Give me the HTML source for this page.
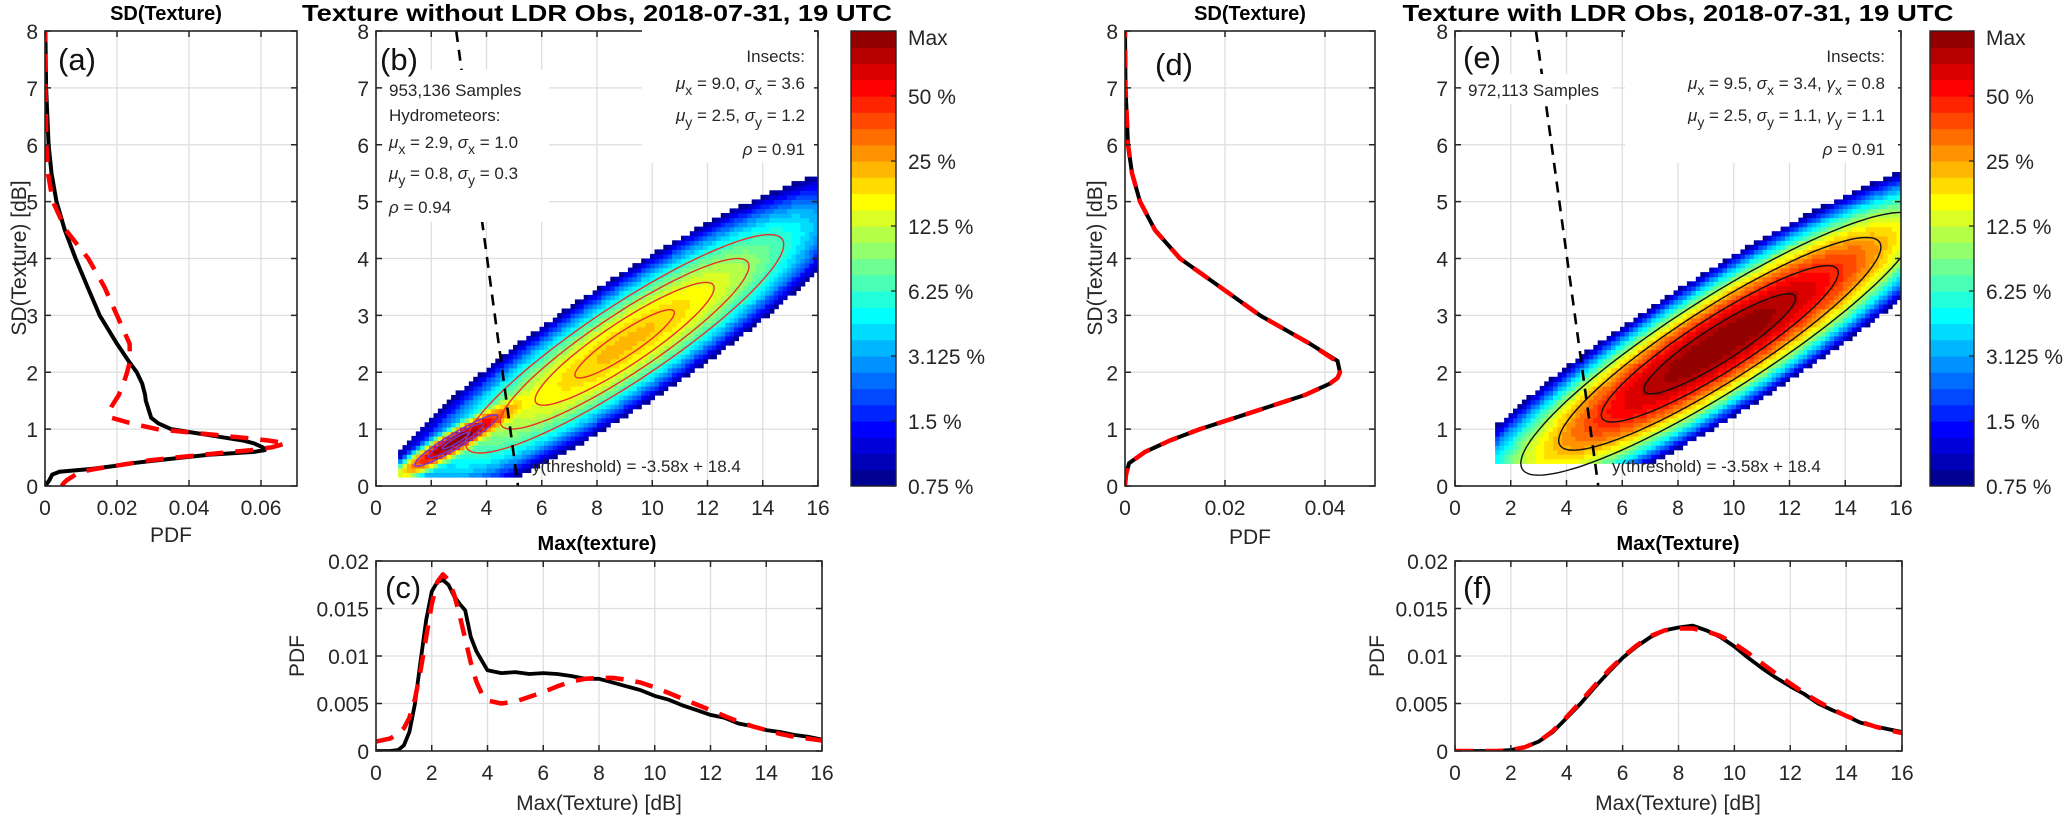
<!DOCTYPE html>
<html><head><meta charset="utf-8"><title>Texture PDFs</title>
<style>
html,body{margin:0;padding:0;background:#fff;}
svg{display:block;font-family:"Liberation Sans",Arial,sans-serif;}
text{fill:#262626;}
.t{font-size:21px;}
.ann{font-size:17px;}
.lab{font-size:31px;fill:#111;}
.ttl{font-size:23px;font-weight:bold;fill:#000;}
.sttl{font-size:20px;font-weight:bold;fill:#000;}
</style></head>
<body>
<svg id="fig" xmlns="http://www.w3.org/2000/svg" width="2067" height="816" viewBox="0 0 2067 816">
<defs>
<clipPath id="clipA"><rect x="45" y="31" width="252" height="455"/></clipPath>
<clipPath id="clipB"><rect x="376" y="31" width="442" height="455"/></clipPath>
<clipPath id="clipC"><rect x="376" y="561" width="446" height="190"/></clipPath>
<clipPath id="clipD"><rect x="1125" y="31" width="250" height="455"/></clipPath>
<clipPath id="clipE"><rect x="1455" y="31" width="446" height="455"/></clipPath>
<clipPath id="clipF"><rect x="1455" y="561" width="447" height="190"/></clipPath>
</defs>
<g id="layer"></g>
<g id="over">
<text class="sttl" x="166" y="20" text-anchor="middle">SD(Texture)</text>
<text class="ttl" x="597" y="21" text-anchor="middle" textLength="590" lengthAdjust="spacingAndGlyphs">Texture without LDR Obs, 2018-07-31, 19 UTC</text>
<text class="sttl" x="1250" y="20" text-anchor="middle">SD(Texture)</text>
<text class="ttl" x="1678" y="21" text-anchor="middle" textLength="551" lengthAdjust="spacingAndGlyphs">Texture with LDR Obs, 2018-07-31, 19 UTC</text>

<text class="t" transform="translate(26,258) rotate(-90)" text-anchor="middle">SD(Texture) [dB]</text>
<text class="t" x="171" y="542" text-anchor="middle">PDF</text>
<text class="t" transform="translate(1102,258) rotate(-90)" text-anchor="middle">SD(Texture) [dB]</text>
<text class="t" x="1250" y="544" text-anchor="middle">PDF</text>
<text class="sttl" x="597" y="550" text-anchor="middle">Max(texture)</text>
<text class="sttl" x="1678" y="550" text-anchor="middle">Max(Texture)</text>
<text class="t" x="599" y="810" text-anchor="middle">Max(Texture) [dB]</text>
<text class="t" x="1678" y="810" text-anchor="middle">Max(Texture) [dB]</text>
<text class="t" transform="translate(304,656) rotate(-90)" text-anchor="middle">PDF</text>
<text class="t" transform="translate(1384,656) rotate(-90)" text-anchor="middle">PDF</text>

<rect x="383" y="70" width="166" height="152" fill="#fff"/>
<text class="ann" x="389" y="96">953,136 Samples</text>
<text class="ann" x="389" y="121">Hydrometeors:</text>
<text class="ann" x="389" y="148"><tspan font-style="italic">μ</tspan><tspan dy="6" font-size="14">x</tspan><tspan dy="-6"> = 2.9, </tspan><tspan font-style="italic">σ</tspan><tspan dy="6" font-size="14">x</tspan><tspan dy="-6"> = 1.0</tspan></text>
<text class="ann" x="389" y="179"><tspan font-style="italic">μ</tspan><tspan dy="6" font-size="14">y</tspan><tspan dy="-6"> = 0.8, </tspan><tspan font-style="italic">σ</tspan><tspan dy="6" font-size="14">y</tspan><tspan dy="-6"> = 0.3</tspan></text>
<text class="ann" x="389" y="213"><tspan font-style="italic">ρ</tspan> = 0.94</text>

<rect x="642" y="27" width="172" height="136" fill="#fff"/>
<text class="ann" x="805" y="62" text-anchor="end">Insects:</text>
<text class="ann" x="805" y="89" text-anchor="end"><tspan font-style="italic">μ</tspan><tspan dy="6" font-size="14">x</tspan><tspan dy="-6"> = 9.0, </tspan><tspan font-style="italic">σ</tspan><tspan dy="6" font-size="14">x</tspan><tspan dy="-6"> = 3.6</tspan></text>
<text class="ann" x="805" y="121" text-anchor="end"><tspan font-style="italic">μ</tspan><tspan dy="6" font-size="14">y</tspan><tspan dy="-6"> = 2.5, </tspan><tspan font-style="italic">σ</tspan><tspan dy="6" font-size="14">y</tspan><tspan dy="-6"> = 1.2</tspan></text>
<text class="ann" x="805" y="155" text-anchor="end"><tspan font-style="italic">ρ</tspan> = 0.91</text>
<text class="ann" x="532" y="472">y(threshold) = -3.58x + 18.4</text>

<rect x="1462" y="74" width="150" height="30" fill="#fff"/>
<rect x="1625" y="27" width="273" height="136" fill="#fff"/>
<text class="ann" x="1468" y="96">972,113 Samples</text>
<text class="ann" x="1885" y="62" text-anchor="end">Insects:</text>
<text class="ann" x="1885" y="89" text-anchor="end"><tspan font-style="italic">μ</tspan><tspan dy="6" font-size="14">x</tspan><tspan dy="-6"> = 9.5, </tspan><tspan font-style="italic">σ</tspan><tspan dy="6" font-size="14">x</tspan><tspan dy="-6"> = 3.4, </tspan><tspan font-style="italic">γ</tspan><tspan dy="6" font-size="14">x</tspan><tspan dy="-6"> = 0.8</tspan></text>
<text class="ann" x="1885" y="121" text-anchor="end"><tspan font-style="italic">μ</tspan><tspan dy="6" font-size="14">y</tspan><tspan dy="-6"> = 2.5, </tspan><tspan font-style="italic">σ</tspan><tspan dy="6" font-size="14">y</tspan><tspan dy="-6"> = 1.1, </tspan><tspan font-style="italic">γ</tspan><tspan dy="6" font-size="14">y</tspan><tspan dy="-6"> = 1.1</tspan></text>
<text class="ann" x="1885" y="155" text-anchor="end"><tspan font-style="italic">ρ</tspan> = 0.91</text>
<text class="ann" x="1612" y="472">y(threshold) = -3.58x + 18.4</text>

<text class="lab" x="58" y="70">(a)</text>
<text class="lab" x="380" y="70">(b)</text>
<text class="lab" x="385" y="598">(c)</text>
<text class="lab" x="1155" y="75">(d)</text>
<text class="lab" x="1463" y="68">(e)</text>
<text class="lab" x="1463" y="598">(f)</text>
</g>
</svg>
<script>
// ---------- data ----------
const aSdLevels = [0,0.05,0.1,0.2,0.25,0.3,0.35,0.4,0.45,0.5,0.55,0.6,0.63,0.68,0.75,0.8,0.85,0.9,0.95,1.0,1.1,1.2,1.3,1.4,1.5,1.6,1.8,2.0,2.2,2.5,3.0,3.5,4.0,4.5,5.0,5.5,6.0,7.0,8.0];
const aPdfObs = [0,0.0006,0.0012,0.002,0.004,0.013,0.019,0.024,0.031,0.038,0.0455,0.058,0.061,0.0605,0.058,0.055,0.05,0.045,0.04,0.035,0.0315,0.0295,0.029,0.0285,0.028,0.0278,0.027,0.0255,0.0232,0.02,0.0152,0.0118,0.0085,0.0055,0.0032,0.0018,0.001,0.0003,0.0001];
const aPdfFit = [0.0046,0.0052,0.006,0.0085,0.01,0.014,0.019,0.024,0.029,0.036,0.044,0.052,0.057,0.063,0.067,0.062,0.055,0.047,0.039,0.031,0.024,0.0185,0.0178,0.0185,0.0195,0.0205,0.0218,0.0228,0.0236,0.0235,0.02,0.0165,0.012,0.0058,0.0022,0.0008,0.0004,0.0001,0];

const dSdLevels = [0,0.2,0.4,0.6,0.8,1.0,1.2,1.4,1.6,1.8,1.9,2.0,2.2,2.5,3.0,3.5,4.0,4.5,5.0,5.5,6.0,7.0,8.0];
const dPdfObs = [0,0.0002,0.0008,0.004,0.009,0.015,0.022,0.029,0.036,0.041,0.0425,0.043,0.0425,0.037,0.027,0.019,0.011,0.006,0.003,0.0014,0.0006,0.0001,0];
const dPdfFit = [0,0.0002,0.0008,0.004,0.009,0.015,0.022,0.029,0.036,0.041,0.0425,0.043,0.0422,0.037,0.027,0.019,0.011,0.006,0.003,0.0014,0.0006,0.0001,0];

const cMaxTexture = [0,0.5,0.8,1.0,1.2,1.4,1.6,1.8,2.0,2.2,2.4,2.6,2.8,3.0,3.2,3.4,3.6,3.8,4.0,4.5,5,5.5,6,6.5,7,7.5,8,8.5,9,9.5,10,10.5,11,11.5,12,12.5,13,13.5,14,14.5,15,15.5,16];
const cPdfObs = [0,0,0.0001,0.0006,0.002,0.005,0.0095,0.0138,0.0168,0.0178,0.018,0.0175,0.0163,0.0155,0.0148,0.012,0.0105,0.0095,0.0085,0.0082,0.0083,0.0081,0.0082,0.0081,0.0079,0.0076,0.0076,0.0072,0.0068,0.0064,0.0058,0.0054,0.0048,0.0043,0.0038,0.0035,0.0029,0.0026,0.0022,0.002,0.0017,0.0015,0.0012];
const cPdfFit = [0.001,0.0013,0.0018,0.0024,0.0035,0.0055,0.0085,0.012,0.0155,0.0178,0.0186,0.018,0.0165,0.0143,0.0118,0.0093,0.0073,0.006,0.0053,0.005,0.0052,0.0057,0.0062,0.0068,0.0073,0.0076,0.0077,0.0077,0.0075,0.0072,0.0067,0.0061,0.0055,0.0049,0.0043,0.0037,0.0031,0.0026,0.0022,0.0018,0.0015,0.0013,0.0011];

const fMaxTexture = [0,0.5,1,1.5,2,2.5,3,3.5,4,4.5,5,5.5,6,6.5,7,7.5,8,8.5,9,9.5,10,10.5,11,11.5,12,12.5,13,13.5,14,14.5,15,15.5,16];
const fPdfObs = [0,0,0,0,0.0001,0.0004,0.001,0.002,0.0035,0.005,0.0067,0.0083,0.0098,0.011,0.012,0.0127,0.013,0.0132,0.0127,0.012,0.011,0.0098,0.0087,0.0077,0.0068,0.006,0.005,0.0043,0.0037,0.003,0.0026,0.0023,0.002];
const fPdfFit = [0,0,0,0,0.0001,0.0004,0.001,0.0021,0.0036,0.0052,0.0069,0.0085,0.0099,0.0111,0.0121,0.0127,0.0129,0.0129,0.0126,0.0121,0.0113,0.0103,0.0092,0.0081,0.0071,0.0061,0.0052,0.0044,0.0037,0.0031,0.0026,0.0022,0.0019];

// 2D histogram populations (values printed in the figure)
const bMuX = [2.9, 9.0];
const bSigmaX = [1.0, 3.6];
const bMuY = [0.8, 2.5];
const bSigmaY = [0.3, 1.2];
const bRho = [0.94, 0.91];
const bWeight = [1, 4];
const bLowerCut = [0.8, 0.15];
const eMuX = [9.5];
const eSigmaX = [3.4];
const eMuY = [2.5];
const eSigmaY = [1.1];
const eRho = [0.91];
const eWeight = [1];
const eLowerCut = [1.5, 0.4];
const bHydroContourLevels = [0.5, 1.0, 1.5];
const bInsectContourLevels = [0.5, 0.9, 1.25, 1.6];
const eInsectContourLevels = [0.8, 1.25, 1.7, 2.1];
const threshold = [-3.58, 18.4];

const colorbarLabels = ['0.75 %','1.5 %','3.125 %','6.25 %','12.5 %','25 %','50 %','Max'];
const colorbarOctaves = [-7,-6,-5,-4,-3,-2,-1,0];

const sdTicks = [0,1,2,3,4,5,6,7,8];
const sdTickLabels = ['0','1','2','3','4','5','6','7','8'];
const texTicks = [0,2,4,6,8,10,12,14,16];
const texTickLabels = ['0','2','4','6','8','10','12','14','16'];
const aPdfTicks = [0,0.02,0.04,0.06];
const aPdfTickLabels = ['0','0.02','0.04','0.06'];
const dPdfTicks = [0,0.02,0.04];
const dPdfTickLabels = ['0','0.02','0.04'];
const smallPdfTicks = [0,0.005,0.01,0.015,0.02];
const smallPdfTickLabels = ['0','0.005','0.01','0.015','0.02'];

// ---------- helpers ----------
const NS = 'http://www.w3.org/2000/svg';
const layer = document.getElementById('layer');
function mk(tag, parent, name){
  const e = document.createElementNS(NS, tag);
  
  
  parent.appendChild(e);
  return e;
}
function lin(d0,d1,r0,r1){ return v => r0 + (v-d0)*(r1-r0)/(d1-d0); }
function jet(t){
  const c = v => Math.max(0, Math.min(1, v));
  const r = c(1.5-Math.abs(4*t-3)), g = c(1.5-Math.abs(4*t-2)), b = c(1.5-Math.abs(4*t-1));
  return 'rgb(' + Math.round(r*255) + ',' + Math.round(g*255) + ',' + Math.round(b*255) + ')';
}
const NBANDS = 28;

function makeAxes(p){
  const g = mk('g', layer, p.name);
  const sx = lin(p.xmin,p.xmax,p.x0,p.x1), sy = lin(p.ymin,p.ymax,p.y0,p.y1);
  p.xt.forEach(v => {
    const l = mk('line', g, p.name + '-x-grid-line');
    l.setAttribute('x1', sx(v)); l.setAttribute('x2', sx(v));
    l.setAttribute('y1', p.y0); l.setAttribute('y2', p.y1);
    l.setAttribute('stroke', '#dedede'); l.setAttribute('stroke-width', '1.3');
  });
  p.yt.forEach(v => {
    const l = mk('line', g, p.name + '-y-grid-line');
    l.setAttribute('x1', p.x0); l.setAttribute('x2', p.x1);
    l.setAttribute('y1', sy(v)); l.setAttribute('y2', sy(v));
    l.setAttribute('stroke', '#dedede'); l.setAttribute('stroke-width', '1.3');
  });
  const plot = mk('g', g, p.name + '-plot-area');
  plot.setAttribute('clip-path', 'url(#' + p.clip + ')');
  return {g, plot, sx, sy, p};
}
function finishAxes(ax){
  const p = ax.p, g = ax.g, sx = ax.sx, sy = ax.sy;
  const fr = mk('rect', g, p.name + '-frame');
  fr.setAttribute('x', p.x0); fr.setAttribute('y', p.y1);
  fr.setAttribute('width', p.x1-p.x0); fr.setAttribute('height', p.y0-p.y1);
  fr.setAttribute('fill', 'none'); fr.setAttribute('stroke', '#262626'); fr.setAttribute('stroke-width', '1.6');
  p.xt.forEach((v,i) => {
    [[p.y0, p.y0-6],[p.y1, p.y1+6]].forEach(yy => {
      const t = mk('line', g, p.name + '-x-tick');
      t.setAttribute('x1', sx(v)); t.setAttribute('x2', sx(v));
      t.setAttribute('y1', yy[0]); t.setAttribute('y2', yy[1]);
      t.setAttribute('stroke', '#262626'); t.setAttribute('stroke-width', '1.5');
    });
    const tx = mk('text', g, p.name + '-x-tick-label');
    tx.setAttribute('x', sx(v)); tx.setAttribute('y', p.y0 + 29);
    tx.setAttribute('text-anchor', 'middle'); tx.setAttribute('class', 't');
    tx.textContent = p.xl[i];
  });
  p.yt.forEach((v,i) => {
    [[p.x0, p.x0+6],[p.x1, p.x1-6]].forEach(xx => {
      const t = mk('line', g, p.name + '-y-tick');
      t.setAttribute('x1', xx[0]); t.setAttribute('x2', xx[1]);
      t.setAttribute('y1', sy(v)); t.setAttribute('y2', sy(v));
      t.setAttribute('stroke', '#262626'); t.setAttribute('stroke-width', '1.5');
    });
    const tx = mk('text', g, p.name + '-y-tick-label');
    tx.setAttribute('x', p.x0 - 7); tx.setAttribute('y', sy(v) + 8);
    tx.setAttribute('text-anchor', 'end'); tx.setAttribute('class', 't');
    tx.textContent = p.yl[i];
  });
}
function drawCurve(ax, xs, ys, name, color, width, dash){
  const pts = xs.map((x,i) => ax.sx(x).toFixed(1) + ',' + ax.sy(ys[i]).toFixed(1)).join(' ');
  const pl = mk('polyline', ax.plot, name);
  pl.setAttribute('points', pts);
  pl.setAttribute('fill', 'none'); pl.setAttribute('stroke', color);
  pl.setAttribute('stroke-width', width); pl.setAttribute('stroke-linejoin', 'round');
  if (dash) pl.setAttribute('stroke-dasharray', dash);
}
function density(x, y, mx, sgx, my, sgy, rho, w){
  let s = 0;
  for (let k = 0; k < mx.length; k++){
    const zx = (x-mx[k])/sgx[k], zy = (y-my[k])/sgy[k], om = 1-rho[k]*rho[k];
    const q = (zx*zx - 2*rho[k]*zx*zy + zy*zy)/om;
    s += w[k]/(sgx[k]*sgy[k]*Math.sqrt(om)) * Math.exp(-q/2);
  }
  return s;
}
function drawHeatmap(ax, mx, sgx, my, sgy, rho, w, cut, name){
  const dx = 0.16, dy = 0.08, nx = 100, ny = 100;
  const vals = [];
  let mxv = 0;
  for (let i = 0; i < nx; i++) for (let j = 0; j < ny; j++){
    const cx = (i+0.5)*dx, cy = (j+0.5)*dy;
    if (cx < cut[0] || cy < cut[1]) continue;
    const d = density(cx, cy, mx, sgx, my, sgy, rho, w);
    vals.push([i,j,d]); if (d > mxv) mxv = d;
  }
  const g = mk('g', ax.plot, name);
  vals.forEach(v => {
    const lv = Math.log2(v[2]/mxv);
    if (lv < -7) return;
    const band = Math.min(NBANDS-1, Math.floor((lv+7)/7*NBANDS));
    const r = mk('rect', g, 'heatmap-cell');
    const x0 = ax.sx(v[0]*dx), y1 = ax.sy((v[1]+1)*dy);
    r.setAttribute('x', x0.toFixed(1)); r.setAttribute('y', y1.toFixed(1));
    r.setAttribute('width', (ax.sx(dx)-ax.sx(0)+0.6).toFixed(1));
    r.setAttribute('height', (ax.sy(0)-ax.sy(dy)+0.6).toFixed(1));
    r.setAttribute('fill', jet((band+0.5)/NBANDS));
  });
}
function drawEllipses(ax, mx, sgx, my, sgy, rho, levels, color, name){
  levels.forEach(r => {
    const pts = [];
    for (let k = 0; k <= 120; k++){
      const t = k/120*2*Math.PI;
      const x = mx + r*sgx*Math.cos(t);
      const y = my + r*sgy*(rho*Math.cos(t) + Math.sqrt(1-rho*rho)*Math.sin(t));
      pts.push(ax.sx(x).toFixed(1) + ',' + ax.sy(y).toFixed(1));
    }
    const pg = mk('polygon', ax.plot, name);
    pg.setAttribute('points', pts.join(' '));
    pg.setAttribute('fill', 'none'); pg.setAttribute('stroke', color); pg.setAttribute('stroke-width', '1.4');
  });
}
function drawThreshold(ax, name){
  const l = mk('line', ax.plot, name);
  l.setAttribute('x1', ax.sx((8-threshold[1])/threshold[0])); l.setAttribute('y1', ax.sy(8));
  l.setAttribute('x2', ax.sx((0-threshold[1])/threshold[0])); l.setAttribute('y2', ax.sy(0));
  l.setAttribute('stroke', '#000'); l.setAttribute('stroke-width', '2.6'); l.setAttribute('stroke-dasharray', '11,8');
}
function drawColorbar(x0, x1, y0, y1, name){
  const g = mk('g', layer, name);
  const sy = lin(-7, 0, y0, y1);
  for (let b = 0; b < NBANDS; b++){
    const r = mk('rect', g, name + '-band');
    const ya = sy(-7 + (b+1)*7/NBANDS), yb = sy(-7 + b*7/NBANDS);
    r.setAttribute('x', x0); r.setAttribute('y', ya.toFixed(1));
    r.setAttribute('width', x1-x0); r.setAttribute('height', (yb-ya+0.5).toFixed(1));
    r.setAttribute('fill', jet((b+0.5)/NBANDS));
  }
  const fr = mk('rect', g, name + '-frame');
  fr.setAttribute('x', x0); fr.setAttribute('y', y1); fr.setAttribute('width', x1-x0); fr.setAttribute('height', y0-y1);
  fr.setAttribute('fill', 'none'); fr.setAttribute('stroke', '#262626'); fr.setAttribute('stroke-width', '1.4');
  colorbarOctaves.forEach((o,i) => {
    const t = mk('line', g, name + '-tick');
    t.setAttribute('x1', x1); t.setAttribute('x2', x1-5); t.setAttribute('y1', sy(o)); t.setAttribute('y2', sy(o));
    t.setAttribute('stroke', '#262626'); t.setAttribute('stroke-width', '1.3');
    const tx = mk('text', g, name + '-tick-label');
    tx.setAttribute('x', x1 + 12); tx.setAttribute('y', sy(o) + (i === colorbarOctaves.length-1 ? 14 : 8));
    tx.setAttribute('class', 't');
    tx.textContent = colorbarLabels[i];
  });
}

// ---------- panel (a) ----------
const axA = makeAxes({name:'panel-a', x0:45, x1:297, y0:486, y1:31, xmin:0, xmax:0.07, ymin:0, ymax:8, xt:aPdfTicks, xl:aPdfTickLabels, yt:sdTicks, yl:sdTickLabels, clip:'clipA'});
drawCurve(axA, aPdfObs, aSdLevels, 'panel-a-observed-pdf', '#000', 4, null);
drawCurve(axA, aPdfFit, aSdLevels, 'panel-a-fitted-pdf', '#ff0000', 4.5, '18,12');
finishAxes(axA);

// ---------- panel (b) ----------
const axB = makeAxes({name:'panel-b', x0:376, x1:818, y0:486, y1:31, xmin:0, xmax:16, ymin:0, ymax:8, xt:texTicks, xl:texTickLabels, yt:sdTicks, yl:sdTickLabels, clip:'clipB'});
drawHeatmap(axB, bMuX, bSigmaX, bMuY, bSigmaY, bRho, bWeight, bLowerCut, 'panel-b-heatmap');
drawEllipses(axB, bMuX[1], bSigmaX[1], bMuY[1], bSigmaY[1], bRho[1], bInsectContourLevels, '#e8302a', 'panel-b-insect-contour');
drawEllipses(axB, bMuX[0], bSigmaX[0], bMuY[0], bSigmaY[0], bRho[0], bHydroContourLevels, '#6a3cd6', 'panel-b-hydro-contour');
drawThreshold(axB, 'panel-b-threshold-line');
finishAxes(axB);
drawColorbar(851, 896, 486, 31, 'colorbar-left');

// ---------- panel (c) ----------
const axC = makeAxes({name:'panel-c', x0:376, x1:822, y0:751, y1:561, xmin:0, xmax:16, ymin:0, ymax:0.02, xt:texTicks, xl:texTickLabels, yt:smallPdfTicks, yl:smallPdfTickLabels, clip:'clipC'});
drawCurve(axC, cMaxTexture, cPdfObs, 'panel-c-observed-pdf', '#000', 3.8, null);
drawCurve(axC, cMaxTexture, cPdfFit, 'panel-c-fitted-pdf', '#ff0000', 4.5, '18,12');
finishAxes(axC);

// ---------- panel (d) ----------
const axD = makeAxes({name:'panel-d', x0:1125, x1:1375, y0:486, y1:31, xmin:0, xmax:0.05, ymin:0, ymax:8, xt:dPdfTicks, xl:dPdfTickLabels, yt:sdTicks, yl:sdTickLabels, clip:'clipD'});
drawCurve(axD, dPdfObs, dSdLevels, 'panel-d-observed-pdf', '#000', 4, null);
drawCurve(axD, dPdfFit, dSdLevels, 'panel-d-fitted-pdf', '#ff0000', 4.5, '18,12');
finishAxes(axD);

// ---------- panel (e) ----------
const axE = makeAxes({name:'panel-e', x0:1455, x1:1901, y0:486, y1:31, xmin:0, xmax:16, ymin:0, ymax:8, xt:texTicks, xl:texTickLabels, yt:sdTicks, yl:sdTickLabels, clip:'clipE'});
drawHeatmap(axE, eMuX, eSigmaX, eMuY, eSigmaY, eRho, eWeight, eLowerCut, 'panel-e-heatmap');
drawEllipses(axE, eMuX[0], eSigmaX[0], eMuY[0], eSigmaY[0], eRho[0], eInsectContourLevels, '#111', 'panel-e-insect-contour');
drawThreshold(axE, 'panel-e-threshold-line');
finishAxes(axE);
drawColorbar(1930, 1974, 486, 31, 'colorbar-right');

// ---------- panel (f) ----------
const axF = makeAxes({name:'panel-f', x0:1455, x1:1902, y0:751, y1:561, xmin:0, xmax:16, ymin:0, ymax:0.02, xt:texTicks, xl:texTickLabels, yt:smallPdfTicks, yl:smallPdfTickLabels, clip:'clipF'});
drawCurve(axF, fMaxTexture, fPdfObs, 'panel-f-observed-pdf', '#000', 3.8, null);
drawCurve(axF, fMaxTexture, fPdfFit, 'panel-f-fitted-pdf', '#ff0000', 4.5, '18,12');
finishAxes(axF);
</script>
</body></html>
